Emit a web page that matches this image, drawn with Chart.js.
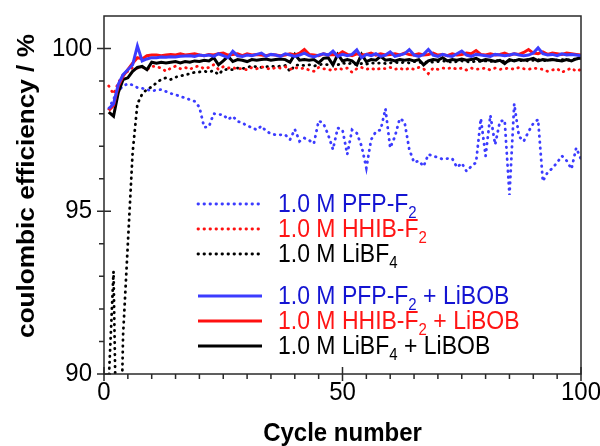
<!DOCTYPE html>
<html>
<head>
<meta charset="utf-8">
<title>Coulombic efficiency</title>
<script src="https://cdn.jsdelivr.net/npm/chart.js@4.4.0/dist/chart.umd.min.js"></script>
<style>
  html, body { margin: 0; padding: 0; background: #fff; }
  #wrap { width: 600px; height: 446px; }
</style>
</head>
<body>
<div id="wrap"><canvas id="ceChart" width="600" height="446"></canvas></div>
<script>
const FONT = "'Liberation Sans', Arial, sans-serif";
// text in this figure is a little taller than it is wide
const TEXT_STRETCH = 1.09;

const CYCLES = [
  1, 2, 3, 4, 5, 6, 7, 8, 9, 10, 11, 12, 13, 14, 15, 16, 17, 18, 19, 20,
  21, 22, 23, 24, 25, 26, 27, 28, 29, 30, 31, 32, 33, 34, 35, 36, 37, 38, 39, 40,
  41, 42, 43, 44, 45, 46, 47, 48, 49, 50, 51, 52, 53, 54, 55, 56, 57, 58, 59, 60,
  61, 62, 63, 64, 65, 66, 67, 68, 69, 70, 71, 72, 73, 74, 75, 76, 77, 78, 79, 80,
  81, 82, 83, 84, 85, 86, 87, 88, 89, 90, 91, 92, 93, 94, 95, 96, 97, 98, 99, 100,
];

// 1.0 M salt solutions without additive
const PFP_F2 = [
  98.15, 98.45, 98.7, 98.85, 98.92, 98.88, 98.8, 98.78, 98.74, 98.7,
  98.72, 98.74, 98.68, 98.62, 98.58, 98.53, 98.48, 98.43, 98.38, 98.2,
  97.58, 97.6, 98.0, 97.97, 97.97, 97.82, 97.92, 97.76, 97.72, 97.62,
  97.58, 97.5, 97.62, 97.46, 97.38, 97.35, 97.35, 97.35, 97.2, 97.52,
  97.15, 97.25, 97.18, 97.08, 97.78, 97.7, 97.35, 96.9, 97.56, 97.5,
  96.75, 97.5, 97.4, 97.0, 96.33, 97.2, 97.45, 97.5, 98.15, 96.95,
  97.3, 97.85, 97.75, 96.9, 96.5, 96.55, 96.38, 96.75, 96.7, 96.65,
  96.6, 96.62, 96.62, 96.35, 96.48, 96.23, 96.38, 96.5, 97.85, 96.7,
  97.95, 97.05, 97.76, 97.8, 95.5, 98.3, 97.3, 97.15, 97.45, 97.7,
  97.82, 95.92, 96.2, 96.32, 96.5, 96.7, 96.55, 96.3, 96.95, 96.6,
];
const HHIB_F2 = [
  98.85, 98.6, 98.95, 99.2, 99.3, 99.42, 99.4, 99.44, 99.35, 99.46,
  99.44, 99.4, 99.3, 99.4, 99.46, 99.38, 99.42, 99.36, 99.44, 99.46,
  99.38, 99.42, 99.5, 99.36, 99.44, 99.4, 99.42, 99.36, 99.4, 99.34,
  99.42, 99.38, 99.44, 99.4, 99.36, 99.42, 99.4, 99.44, 99.36, 99.42,
  99.38, 99.4, 99.34, 99.3, 99.42, 99.38, 99.36, 99.32, 99.4, 99.36,
  99.4, 99.27, 99.38, 99.42, 99.36, 99.4, 99.34, 99.4, 99.38, 99.42,
  99.36, 99.4, 99.34, 99.4, 99.36, 99.42, 99.38, 99.23, 99.4, 99.36,
  99.4, 99.38, 99.42, 99.36, 99.4, 99.34, 99.4, 99.36, 99.38, 99.4,
  99.34, 99.4, 99.36, 99.38, 99.4, 99.36, 99.42, 99.38, 99.36, 99.4,
  99.38, 99.36, 99.3, 99.34, 99.38, 99.27, 99.34, 99.4, 99.3, 99.36,
];
const LIBF4 = [
  89.8, 93.15, 84.0, 91.2, 94.0, 96.8, 98.3, 98.6, 98.75, 98.82,
  98.95, 99.05, 99.1, 99.05, 99.12, 99.15, 99.2, 99.22, 99.27, 99.28,
  99.3, 99.28, 99.32, 99.2, 99.35, 99.36, 99.35, 99.4, 99.38, 99.42,
  99.46, 99.44, 99.42, 99.44, 99.46, 99.44, 99.46, 99.48, 99.3, 99.48,
  99.5, 99.48, 99.5, 99.46, 99.5, 99.52, 99.5, 99.54, 99.5, 99.56,
  99.52, 99.56, 99.5, 99.54, 99.52, 99.56, 99.54, 99.56, 99.54, 99.56,
  99.58, 99.56, 99.58, 99.56, 99.6, 99.58, 99.56, 99.6, 99.58, 99.6,
  99.62, 99.6, 99.58, 99.6, 99.62, 99.6, 99.58, 99.62, 99.6, 99.62,
  99.6, 99.62, 99.64, 99.6, 99.62, 99.64, 99.62, 99.64, 99.62, 99.64,
  99.66, 99.62, 99.64, 99.66, 99.64, 99.66, 99.64, 99.66, 99.68, 99.7,
];

// same solutions with LiBOB added
const PFP_F2_BOB = [
  98.15, 98.3, 98.9, 99.2, 99.35, 99.5, 100.08, 99.62, 99.68, 99.72,
  99.72, 99.74, 99.73, 99.75, 99.74, 99.76, 99.77, 99.78, 99.76, 99.8,
  99.78, 99.8, 99.76, 99.84, 99.78, 99.72, 99.92, 99.78, 99.76, 99.8,
  99.78, 99.82, 99.86, 99.76, 99.82, 99.8, 99.76, 99.84, 99.8, 99.76,
  99.8, 99.86, 99.78, 99.74, 99.8, 99.84, 99.8, 99.92, 99.76, 99.82,
  99.78, 99.82, 99.96, 99.72, 99.82, 99.78, 99.84, 99.76, 99.8, 99.9,
  99.76, 99.8, 99.84, 99.97, 99.8, 99.76, 99.82, 99.97, 99.8, 99.76,
  99.82, 99.78, 99.76, 99.84, 99.92, 99.8, 99.76, 99.82, 99.8, 99.78,
  99.76, 99.82, 99.8, 99.78, 99.8, 99.84, 99.8, 99.78, 99.8, 99.86,
  100.02, 99.84, 99.8, 99.82, 99.78, 99.84, 99.8, 99.82, 99.8, 99.78,
];
const HHIB_F2_BOB = [
  98.1, 98.25, 98.85, 99.15, 99.35, 99.55, 99.72, 99.68, 99.78, 99.8,
  99.8, 99.78, 99.8, 99.82, 99.8, 99.84, 99.8, 99.82, 99.84, 99.8,
  99.78, 99.82, 99.8, 99.84, 99.86, 99.8, 99.82, 99.84, 99.78, 99.84,
  99.8, 99.82, 99.8, 99.78, 99.82, 99.8, 99.78, 99.8, 99.84, 99.8,
  99.86, 99.97, 99.82, 99.8, 99.78, 99.84, 99.8, 99.82, 99.8, 99.9,
  99.82, 99.78, 99.84, 99.8, 99.82, 99.86, 99.8, 99.84, 99.8, 99.82,
  99.84, 99.8, 99.86, 99.82, 99.8, 99.84, 99.8, 99.82, 99.86, 99.8,
  99.82, 99.78, 99.84, 99.8, 99.82, 99.86, 99.84, 99.94, 99.82, 99.8,
  99.84, 99.8, 99.82, 99.86, 99.8, 99.84, 99.82, 99.88, 99.97, 99.86,
  99.84, 99.9, 99.82, 99.86, 99.84, 99.82, 99.86, 99.84, 99.82, 99.8,
];
const LIBF4_BOB = [
  98.05, 97.92, 98.65, 99.05, 99.1, 99.3, 99.42, 99.45, 99.35, 99.58,
  99.55, 99.58, 99.56, 99.58, 99.6, 99.56, 99.6, 99.58, 99.62, 99.6,
  99.64, 99.62, 99.72, 99.5, 99.62, 99.76, 99.6, 99.66, 99.64, 99.6,
  99.66, 99.64, 99.66, 99.68, 99.64, 99.66, 99.68, 99.66, 99.58, 99.82,
  99.64, 99.66, 99.64, 99.66, 99.56, 99.7, 99.72, 99.5, 99.82, 99.62,
  99.66, 99.62, 99.5, 99.82, 99.6, 99.66, 99.64, 99.76, 99.64, 99.66,
  99.62, 99.66, 99.64, 99.66, 99.62, 99.66, 99.5, 99.62, 99.66, 99.64,
  99.72, 99.62, 99.66, 99.64, 99.68, 99.64, 99.66, 99.7, 99.62, 99.66,
  99.64, 99.6, 99.64, 99.54, 99.66, 99.62, 99.66, 99.64, 99.66, 99.7,
  99.62, 99.66, 99.64, 99.66, 99.64, 99.62, 99.66, 99.62, 99.68, 99.72,
];

const X_LABELS = [0, 50, 100];
const Y_LABELS = [90, 95, 100];
const X_TITLE = "Cycle number";
const Y_TITLE = "coulombic efficiency / %";

const BLUE = "#3c3cff";
const RED = "#ff1010";
const BLACK = "#000000";
const TEXT_COLORS = { [BLUE]: "#1414d2", [RED]: "#ff1414", [BLACK]: "#000000" };

const toPoints = (values) => CYCLES.map((c, i) => ({ x: c, y: values[i] }));

const solid = (label, values, color) => ({
  label,
  data: toPoints(values),
  borderColor: color,
  borderWidth: 3,
  pointRadius: 0,
  tension: 0,
});

const dotted = (label, values, color) => ({
  ...solid(label, values, color),
  borderWidth: 2.8,
  borderDash: [0.5, 5.5],
  borderCapStyle: "round",
});

// first dataset is painted last, so the solid lines sit on top
const datasets = [
  solid("1.0 M PFP-F₂ + LiBOB", PFP_F2_BOB, BLUE),
  solid("1.0 M HHIB-F₂ + LiBOB", HHIB_F2_BOB, RED),
  solid("1.0 M LiBF₄ + LiBOB", LIBF4_BOB, BLACK),
  dotted("1.0 M PFP-F₂", PFP_F2, BLUE),
  dotted("1.0 M HHIB-F₂", HHIB_F2, RED),
  dotted("1.0 M LiBF₄", LIBF4, BLACK),
];

// legend rows: dataset index and row centre
const LEGEND_ROWS = [
  [3, 204], [4, 229], [5, 254],
  [0, 296], [1, 321], [2, 346],
];

const SUBS = { "₂": "2", "₄": "4" };

// text drawn around (x, y) with the vertical stretch applied
function stretchedText(ctx, text, x, y, font, align, baseline) {
  ctx.save();
  ctx.translate(x, y);
  ctx.scale(1, TEXT_STRETCH);
  ctx.font = font;
  ctx.textAlign = align;
  ctx.textBaseline = baseline;
  ctx.fillText(text, 0, 0);
  ctx.restore();
}

// legend label, subscript digits drawn small and lowered
function drawRichText(ctx, text, x, y, size, color) {
  ctx.save();
  ctx.translate(x, y);
  ctx.scale(1, TEXT_STRETCH);
  ctx.fillStyle = color;
  ctx.textBaseline = "alphabetic";
  ctx.textAlign = "left";
  let cx = 0;
  for (const ch of text) {
    if (SUBS[ch]) {
      ctx.font = `${Math.round(size * 0.66)}px ${FONT}`;
      ctx.fillText(SUBS[ch], cx, size * 0.24);
      cx += ctx.measureText(SUBS[ch]).width;
    } else {
      ctx.font = `${size}px ${FONT}`;
      ctx.fillText(ch, cx, 0);
      cx += ctx.measureText(ch).width;
    }
  }
  ctx.restore();
}

const legendPlugin = {
  id: "insideLegend",
  afterDraw(chart) {
    const { ctx } = chart;
    ctx.save();
    LEGEND_ROWS.forEach(([idx, yc]) => {
      const ds = chart.data.datasets[idx];
      ctx.beginPath();
      ctx.strokeStyle = ds.borderColor;
      ctx.lineWidth = ds.borderWidth;
      ctx.lineCap = ds.borderCapStyle || "butt";
      ctx.setLineDash(ds.borderDash || []);
      ctx.moveTo(198, yc);
      ctx.lineTo(262, yc);
      ctx.stroke();
      ctx.setLineDash([]);
      drawRichText(ctx, ds.label, 278, yc + 8, 23, TEXT_COLORS[ds.borderColor]);
    });
    ctx.restore();
  },
};

// box frame, tick marks, tick labels and axis titles
const framePlugin = {
  id: "frameAndTicks",
  afterDatasetsDraw(chart) {
    const { ctx, chartArea: a, scales } = chart;
    ctx.save();
    ctx.strokeStyle = "#2a2a2a";
    ctx.lineWidth = 1.5;
    ctx.strokeRect(a.left, a.top, a.right - a.left, a.bottom - a.top);

    ctx.beginPath();
    scales.x.ticks.forEach((t) => {
      const px = scales.x.getPixelForValue(t.value);
      const major = X_LABELS.includes(t.value);
      ctx.moveTo(px, a.bottom - (major ? 7 : 0));
      ctx.lineTo(px, a.bottom + (major ? 7 : 5));
    });
    scales.y.ticks.forEach((t) => {
      if (t.value > 100) return;
      const py = scales.y.getPixelForValue(t.value);
      const major = Y_LABELS.includes(t.value);
      ctx.moveTo(a.left - (major ? 7 : 5), py);
      ctx.lineTo(a.left + (major ? 7 : 0), py);
    });
    ctx.stroke();

    ctx.fillStyle = "#000";
    const tickFont = `24px ${FONT}`;
    X_LABELS.forEach((v) => {
      stretchedText(ctx, String(v), scales.x.getPixelForValue(v), 393, tickFont, "center", "middle");
    });
    Y_LABELS.forEach((v) => {
      stretchedText(ctx, String(v), a.left - 12, scales.y.getPixelForValue(v), tickFont, "right", "middle");
    });

    const titleFont = `bold 24px ${FONT}`;
    stretchedText(ctx, X_TITLE, (a.left + a.right) / 2, 434, titleFont, "center", "middle");

    // rotated title: stretch runs along its length
    ctx.save();
    ctx.translate(27, 186);
    ctx.rotate(-Math.PI / 2);
    ctx.scale(TEXT_STRETCH, 1);
    ctx.font = titleFont;
    ctx.textAlign = "center";
    ctx.textBaseline = "middle";
    ctx.fillText(Y_TITLE, 0, 0);
    ctx.restore();

    ctx.restore();
  },
};

new Chart(document.getElementById("ceChart").getContext("2d"), {
  type: "line",
  data: { datasets },
  options: {
    responsive: false,
    animation: false,
    layout: { padding: { top: 16, right: 19, left: 0, bottom: 0 } },
    plugins: { legend: { display: false }, tooltip: { enabled: false } },
    scales: {
      x: {
        type: "linear",
        min: 0,
        max: 100,
        afterFit: (s) => { s.height = 72; },
        grid: { display: false },
        border: { display: false },
        ticks: { stepSize: 5, autoSkip: false, display: false },
      },
      y: {
        min: 90,
        max: 101,
        afterFit: (s) => { s.width = 104; },
        grid: { display: false },
        border: { display: false },
        ticks: { stepSize: 1, autoSkip: false, display: false },
      },
    },
  },
  plugins: [framePlugin, legendPlugin],
});
</script>
</body>
</html>
